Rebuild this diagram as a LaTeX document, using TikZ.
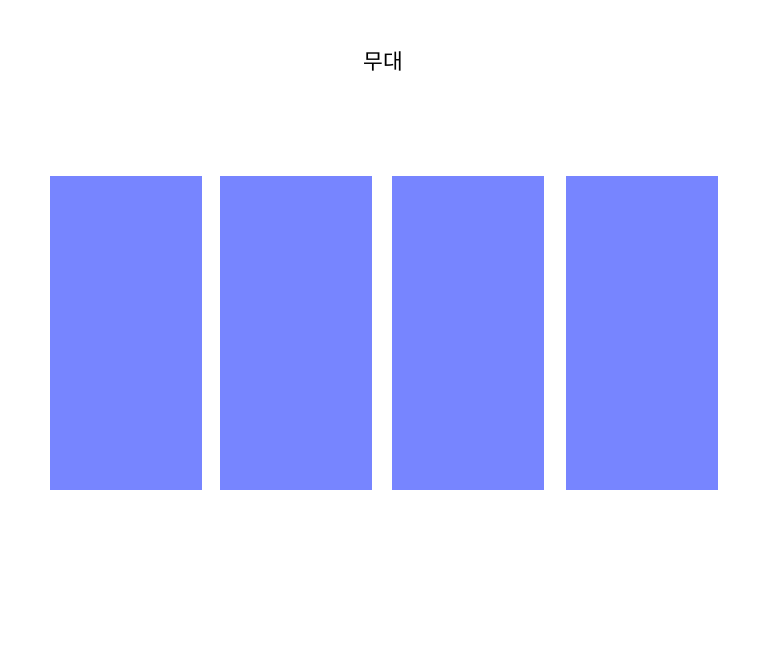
\documentclass[tikz,border=0pt]{standalone}
\usepackage{fontspec}
\newfontfamily\krfont{Noto Sans CJK KR}

\begin{document}
\begin{tikzpicture}[x=1pt,y=-1pt]
\definecolor{blockcolor}{RGB}{119,133,255}
\tikzset{block/.style={fill=blockcolor,draw=none,inner sep=0pt,
    minimum width=152pt,minimum height=314pt,anchor=north west}}

% Canvas in pixel units: 768 x 654.
\useasboundingbox (0,0) rectangle (768,654);

% Stage label.
\node[font=\krfont\fontsize{21.5}{25}\selectfont] (stage) at (383,61) {무대};

% Four blocks below the stage.
\foreach \x [count=\i] in {50,220,392,566}
  \node[block] (block\i) at (\x,176) {};
\end{tikzpicture}
\end{document}
